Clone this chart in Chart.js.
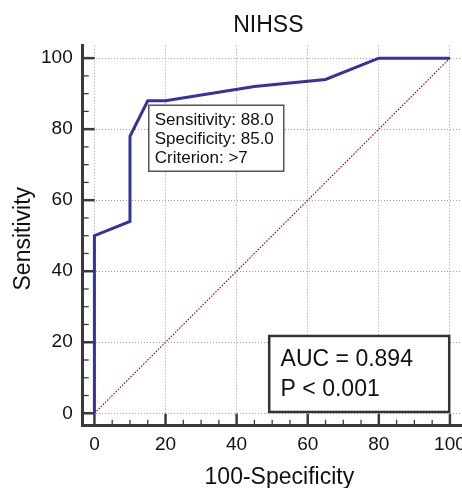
<!DOCTYPE html>
<html>
<head>
<meta charset="utf-8">
<script src="https://cdn.jsdelivr.net/npm/chart.js@4/dist/chart.umd.min.js"></script>
<style>
html, body { margin: 0; padding: 0; background: #fff; }
canvas { display: block; }
</style>
</head>
<body>
<canvas id="roc" width="462" height="488"></canvas>
<script>
// ROC curve points
var fpr  = [0, 0, 10, 10, 15, 20, 45, 65, 80, 100];
var sens = [0, 50, 54, 78, 88, 88, 92, 94, 100, 100];
// reference diagonal
var diagX = [0, 100];
var diagY = [0, 100];
// axis ticks
var majorTicks = [0, 20, 40, 60, 80, 100];
var minorTicks = [0, 5, 10, 15, 20, 25, 30, 35, 40, 45, 50, 55, 60, 65, 70, 75, 80, 85, 90, 95, 100];
// texts
var chartTitle = 'NIHSS';
var xTitle = '100-Specificity';
var yTitle = 'Sensitivity';
var critIndex = 4;
var critLines = ['Sensitivity: 88.0', 'Specificity: 85.0', 'Criterion: >7'];
var aucLines = ['AUC = 0.894', 'P < 0.001'];

var FONT = '"Liberation Sans", Arial, Helvetica, sans-serif';
Chart.defaults.font.family = FONT;
Chart.defaults.color = '#111';

function toPoints(xs, ys) {
  return xs.map(function (v, i) { return {x: v, y: ys[i]}; });
}

function setTicks(scale) {
  scale.ticks = minorTicks.map(function (v) { return {value: v}; });
}

var inwardTicks = {
  id: 'inwardTicks',
  beforeDatasetsDraw: function (chart) {
    var ctx = chart.ctx, a = chart.chartArea;
    var xs = chart.scales.x, ys = chart.scales.y;
    ctx.save();
    ctx.strokeStyle = '#3a3a3a';
    minorTicks.forEach(function (v) {
      var major = majorTicks.indexOf(v) >= 0;
      var len = major ? 12 : 6;
      ctx.lineWidth = major ? 2.5 : 1.3;
      var px = xs.getPixelForValue(v);
      ctx.beginPath(); ctx.moveTo(px, a.bottom); ctx.lineTo(px, a.bottom - len); ctx.stroke();
      var py = ys.getPixelForValue(v);
      ctx.beginPath(); ctx.moveTo(a.left, py); ctx.lineTo(a.left + len, py); ctx.stroke();
    });
    ctx.restore();
  }
};

var labels = {
  id: 'labels',
  afterDraw: function (chart) {
    var ctx = chart.ctx, a = chart.chartArea;
    var xs = chart.scales.x, ys = chart.scales.y;
    ctx.save();
    ctx.fillStyle = '#111';
    ctx.font = '23px ' + FONT;
    ctx.textAlign = 'center';
    ctx.textBaseline = 'alphabetic';
    // title and axis titles
    ctx.fillText(chartTitle, (a.left + a.right) / 2 - 4, 31.7);
    ctx.fillText(xTitle, (a.left + a.right) / 2 + 7, 484);
    ctx.save();
    ctx.translate(30, (a.top + a.bottom) / 2 + 3);
    ctx.rotate(-Math.PI / 2);
    ctx.fillText(yTitle, 0, 0);
    ctx.restore();

    // criterion box
    var bx = xs.getPixelForValue(fpr[critIndex]) + 1;
    var by = ys.getPixelForValue(sens[critIndex]) + 4.5;
    ctx.fillStyle = '#fff';
    ctx.fillRect(bx, by, 135, 66);
    ctx.strokeStyle = '#555';
    ctx.lineWidth = 1.5;
    ctx.strokeRect(bx, by, 135, 66);
    ctx.fillStyle = '#111';
    ctx.font = '17px ' + FONT;
    ctx.textAlign = 'left';
    critLines.forEach(function (t, i) {
      ctx.fillText(t, bx + 6, by + 19.5 + i * 19.3);
    });

    // AUC box
    var w = 180, h = 76;
    var rx = xs.getPixelForValue(100) - 0.7 - w;
    var ry = ys.getPixelForValue(0) - 1.3 - h;
    ctx.fillStyle = '#fff';
    ctx.fillRect(rx, ry, w, h);
    ctx.strokeStyle = '#333';
    ctx.lineWidth = 2.5;
    ctx.strokeRect(rx, ry, w, h);
    ctx.fillStyle = '#111';
    ctx.font = '23px ' + FONT;
    aucLines.forEach(function (t, i) {
      ctx.fillText(t, rx + 11.4, ry + 30 + i * 30);
    });
    ctx.restore();
  }
};

var gridColor = function (c) {
  return c.tick && majorTicks.indexOf(c.tick.value) >= 0 ? '#a0a0a0' : 'rgba(0,0,0,0)';
};

new Chart(document.getElementById('roc'), {
  type: 'scatter',
  data: {
    datasets: [
      {
        label: 'ROC',
        data: toPoints(fpr, sens),
        showLine: true,
        borderColor: '#33339a',
        borderWidth: 3,
        pointRadius: 0,
        tension: 0,
        order: 1
      },
      {
        label: 'Reference',
        data: toPoints(diagX, diagY),
        showLine: true,
        borderColor: '#c00000',
        borderWidth: 1.2,
        borderDash: [1.5, 1.5],
        pointRadius: 0,
        order: 2
      }
    ]
  },
  options: {
    responsive: false,
    animation: false,
    layout: { padding: { top: 45.7, left: 0, right: 0, bottom: 0 } },
    plugins: {
      legend: { display: false },
      tooltip: { enabled: false },
      title: { display: false }
    },
    scales: {
      x: {
        type: 'linear',
        min: -3.3,
        max: 103.4,
        afterBuildTicks: setTicks,
        afterFit: function (s) { s.height = 62.3; s.paddingLeft = 0; s.paddingRight = 0; },
        ticks: {
          autoSkip: false,
          maxRotation: 0,
          padding: 8,
          font: { size: 19 },
          color: '#111',
          callback: function (v) { return majorTicks.indexOf(v) >= 0 ? v : ''; }
        },
        grid: { color: gridColor, lineWidth: 1, drawTicks: false },
        border: { display: true, color: '#3a3a3a', width: 3, dash: [1, 2] }
      },
      y: {
        type: 'linear',
        min: -3.5,
        max: 103.5,
        afterBuildTicks: setTicks,
        afterFit: function (s) { s.width = 82.7; s.paddingTop = 0; s.paddingBottom = 0; },
        ticks: {
          autoSkip: false,
          padding: 10,
          font: { size: 19 },
          color: '#111',
          callback: function (v) { return majorTicks.indexOf(v) >= 0 ? v : ''; }
        },
        grid: { color: gridColor, lineWidth: 1, drawTicks: false },
        border: { display: true, color: '#3a3a3a', width: 3, dash: [1, 2] }
      }
    }
  },
  plugins: [inwardTicks, labels]
});
</script>
</body>
</html>
